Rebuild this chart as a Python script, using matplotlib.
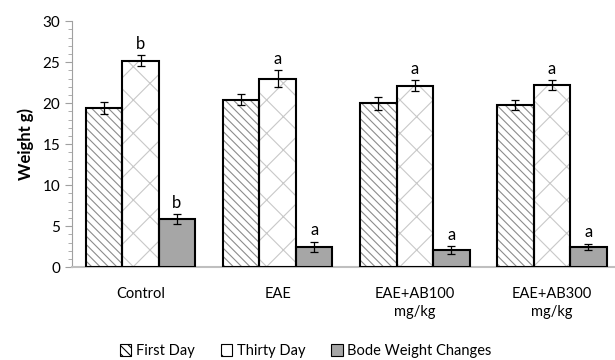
import numpy as np
import matplotlib.pyplot as plt
from matplotlib.patches import Patch
from matplotlib.ticker import MultipleLocator

plt.rcParams['font.family'] = ['Lato', 'DejaVu Sans']
plt.rcParams['hatch.linewidth'] = 0.8

groups = ['Control', 'EAE', 'EAE+AB100\nmg/kg', 'EAE+AB300\nmg/kg']
series = ['First Day', 'Thirty Day', 'Bode Weight Changes']
first_day = [19.4, 20.45, 20.0, 19.8]
thirty_day = [25.2, 23.0, 22.15, 22.25]
bode_change = [5.85, 2.5, 2.1, 2.45]
first_err = [0.7, 0.7, 0.8, 0.6]
thirty_err = [0.7, 1.0, 0.7, 0.6]
bode_err = [0.6, 0.6, 0.5, 0.4]
thirty_letters = ['b', 'a', 'a', 'a']
bode_letters = ['b', 'a', 'a', 'a']

values = [first_day, thirty_day, bode_change]
errors = [first_err, thirty_err, bode_err]
faces = ['white', 'white', '#a6a6a6']
hatches = ['\\\\\\\\', 'x', None]
hatch_cols = ['#8c8c8c', '#c8c8c8', '#a6a6a6']

fig = plt.figure(figsize=(6.15, 3.6), dpi=100)
ax = fig.add_axes([0.117, 0.258, 0.883, 0.683])

x = np.arange(len(groups))
w = 0.266
for i in range(3):
    pos = x + (i - 1) * w
    ax.bar(pos, values[i], w, color=faces[i], hatch=hatches[i],
           edgecolor=hatch_cols[i], linewidth=0, zorder=2)
    ax.bar(pos, values[i], w, fill=False, edgecolor='black', linewidth=1.5, zorder=3)
    ax.errorbar(pos, values[i], yerr=errors[i], fmt='none', ecolor='black',
                elinewidth=0.9, capsize=3, capthick=0.9, zorder=4)

for j in range(len(groups)):
    ax.text(x[j], thirty_day[j] + thirty_err[j] + 0.4, thirty_letters[j],
            ha='center', va='bottom', fontsize=12)
    ax.text(x[j] + w, bode_change[j] + bode_err[j] + 0.4, bode_letters[j],
            ha='center', va='bottom', fontsize=12)

ax.set_xlim(-0.5, 3.46)
ax.set_ylim(0, 30)
ax.set_xticks(x)
ax.set_xticklabels(groups, fontsize=10.5, linespacing=1.4)
ax.tick_params(axis='x', length=0, pad=14)
ax.yaxis.set_major_locator(MultipleLocator(5))
ax.yaxis.set_minor_locator(MultipleLocator(1))
ax.tick_params(axis='y', which='major', labelsize=11, length=5, color='#a0a0a0')
ax.tick_params(axis='y', which='minor', length=3, color='#a0a0a0')
for s in ['top', 'right']:
    ax.spines[s].set_visible(False)
ax.spines['left'].set_color('#a0a0a0')
ax.spines['bottom'].set_color('#bfbfbf')
ax.spines['bottom'].set_linewidth(1.5)
ax.set_ylabel('Weight g)', fontsize=12, fontweight='bold', labelpad=6)

handles = [Patch(facecolor=faces[i], hatch=hatches[i], edgecolor='black',
                 linewidth=0.8) for i in range(3)]
fig.legend(handles, series, loc='center', bbox_to_anchor=(0.497, 0.025),
           ncol=3, frameon=False, fontsize=10.5, handlelength=0.8,
           handleheight=0.8, handletextpad=0.3, columnspacing=1.8)

fig.savefig('out.png', dpi=100)
